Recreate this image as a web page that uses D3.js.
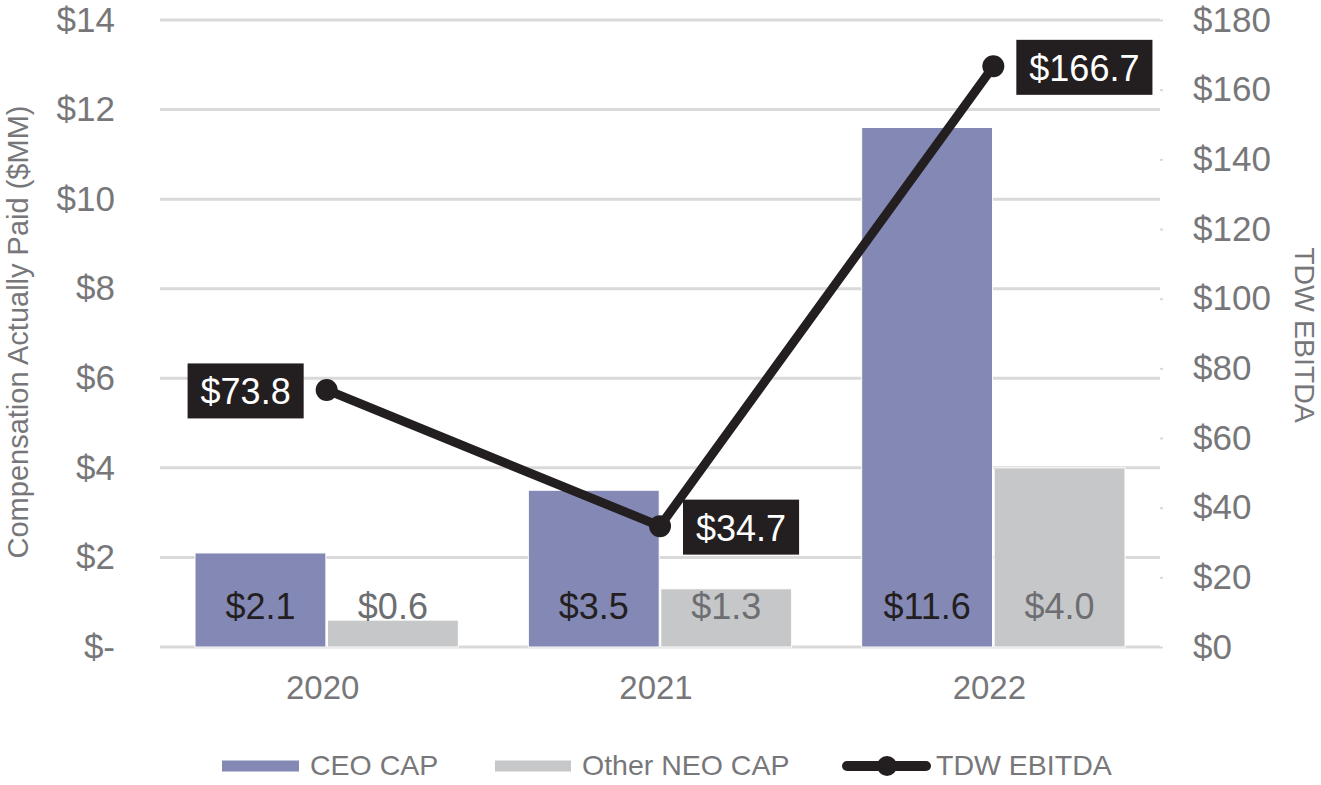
<!DOCTYPE html>
<html>
<head>
<meta charset="utf-8">
<script src="https://cdn.jsdelivr.net/npm/d3@7"></script>
<style>
  html, body { margin: 0; padding: 0; background: #ffffff; }
  svg { display: block; font-family: "Liberation Sans", Arial, sans-serif; }
</style>
</head>
<body>
<svg id="chart" width="1321" height="785"></svg>
<script>
// ---- Data ----
const years = ["2020", "2021", "2022"];
const seriesNames = ["CEO CAP", "Other NEO CAP"];
const ceoCap = [2.1, 3.5, 11.6];
const otherNeoCap = [0.6, 1.3, 4.0];
const ebitda = [73.8, 34.7, 166.7];
const leftTicks = [0, 2, 4, 6, 8, 10, 12, 14];
const leftTickLabels = ["$-", "$2", "$4", "$6", "$8", "$10", "$12", "$14"];
const rightTicks = [0, 20, 40, 60, 80, 100, 120, 140, 160, 180];
const rightTickLabels = ["$0", "$20", "$40", "$60", "$80", "$100", "$120", "$140", "$160", "$180"];
const ebitdaLabelSide = ["left", "right", "right"];

// ---- Layout ----
const svg = d3.select("#chart");
const plot = { left: 160, right: 1160, top: 20, bottom: 647 };
const colors = { ceo: "#8488b5", other: "#c6c7c9", line: "#231f20", grid: "#d9d9d9", axisText: "#77777a" };

const x0 = d3.scaleBand().domain(years).range([plot.left, plot.right]).paddingInner(0.21).paddingOuter(0.105);
const x1 = d3.scaleBand().domain(seriesNames).range([0, x0.bandwidth()]).paddingInner(0.012);
const yL = d3.scaleLinear().domain([0, 14]).range([plot.bottom, plot.top]);
const yR = d3.scaleLinear().domain([0, 180]).range([plot.bottom, plot.top]);

// Gridlines (left ticks)
svg.append("g").selectAll("line").data(leftTicks).join("line")
  .attr("x1", plot.left).attr("x2", plot.right)
  .attr("y1", d => yL(d)).attr("y2", d => yL(d))
  .attr("stroke", colors.grid).attr("stroke-width", 3);

// Left axis labels
const leftAxis = d3.axisLeft(yL).tickValues(leftTicks)
  .tickFormat((d, i) => leftTickLabels[i]).tickSize(0).tickPadding(0);
const gL = svg.append("g").attr("transform", `translate(115,0)`).call(leftAxis);
gL.select(".domain").remove();
gL.selectAll("text").attr("font-size", 35).attr("fill", colors.axisText)
  .attr("font-family", "Liberation Sans, Arial, sans-serif");

// Right axis labels + tiny ticks
const rightAxis = d3.axisRight(yR).tickValues(rightTicks)
  .tickFormat((d, i) => rightTickLabels[i]).tickSize(3).tickPadding(30);
const gR = svg.append("g").attr("transform", `translate(${plot.right},0)`).call(rightAxis);
gR.select(".domain").remove();
gR.selectAll("line").attr("stroke", colors.grid).attr("stroke-width", 2);
gR.selectAll("text").attr("font-size", 35).attr("fill", colors.axisText)
  .attr("font-family", "Liberation Sans, Arial, sans-serif");

// Bottom axis labels
const bottomAxis = d3.axisBottom(x0).tickSize(0).tickPadding(0);
const gB = svg.append("g").attr("transform", `translate(-4,${plot.bottom + 29})`).call(bottomAxis);
gB.select(".domain").remove();
gB.selectAll("text").attr("font-size", 33).attr("fill", colors.axisText)
  .attr("font-family", "Liberation Sans, Arial, sans-serif");

// Axis titles
svg.append("text")
  .attr("transform", `translate(28,332) rotate(-90)`)
  .attr("text-anchor", "middle").attr("font-size", 29).attr("fill", colors.axisText)
  .text("Compensation Actually Paid ($MM)");
svg.append("text")
  .attr("transform", `translate(1295,335) rotate(90)`)
  .attr("text-anchor", "middle").attr("font-size", 28.5).attr("fill", colors.axisText)
  .text("TDW EBITDA");

// Bars
const barData = years.flatMap((yr, i) => [
  { year: yr, series: "CEO CAP", value: ceoCap[i] },
  { year: yr, series: "Other NEO CAP", value: otherNeoCap[i] }
]);
svg.append("g").selectAll("rect").data(barData).join("rect")
  .attr("x", d => x0(d.year) + x1(d.series))
  .attr("width", x1.bandwidth())
  .attr("y", d => yL(d.value))
  .attr("height", d => yL(0) - yL(d.value))
  .attr("fill", d => d.series === "CEO CAP" ? colors.ceo : colors.other)
  .attr("stroke", "#ffffff").attr("stroke-width", 1);

// Bar labels
svg.append("g").selectAll("text").data(barData).join("text")
  .attr("x", d => x0(d.year) + x1(d.series) + x1.bandwidth() / 2)
  .attr("y", yL(0) - 28)
  .attr("text-anchor", "middle")
  .attr("font-size", 36)
  .attr("fill", d => d.series === "CEO CAP" ? "#231f20" : "#6d6e71")
  .text(d => "$" + d.value.toFixed(1));

// Line
const cx = i => x0(years[i]) + x0.bandwidth() / 2;
const line = d3.line().x((d, i) => cx(i)).y(d => yR(d));
svg.append("path").datum(ebitda)
  .attr("d", line).attr("fill", "none")
  .attr("stroke", colors.line).attr("stroke-width", 9).attr("stroke-linejoin", "round");
svg.append("g").selectAll("circle").data(ebitda).join("circle")
  .attr("cx", (d, i) => cx(i)).attr("cy", d => yR(d)).attr("r", 11)
  .attr("fill", colors.line);

// Line labels in black boxes
const lblG = svg.append("g");
ebitda.forEach((v, i) => {
  const g = lblG.append("g");
  const t = g.append("text")
    .attr("font-size", 36).attr("fill", "#ffffff")
    .attr("dominant-baseline", "central")
    .text("$" + v.toFixed(1));
  const w = t.node().getComputedTextLength();
  const padX = 13, h = 55;
  const px = cx(i), py = yR(v);
  const bx = ebitdaLabelSide[i] === "left" ? px - 23 - (w + 2 * padX) : px + 23;
  g.insert("rect", "text")
    .attr("x", bx).attr("y", py - h / 2 + 1)
    .attr("width", w + 2 * padX).attr("height", h)
    .attr("fill", "#231f20");
  t.attr("x", bx + padX).attr("y", py + 2);
});

// Legend
const leg = svg.append("g");
const legY = 766;
const legFont = 28.5;
leg.append("rect").attr("x", 222).attr("y", legY - 5.5).attr("width", 77).attr("height", 11).attr("fill", colors.ceo);
leg.append("text").attr("x", 310).attr("y", 775).attr("font-size", legFont).attr("fill", colors.axisText).text(seriesNames[0]);
leg.append("rect").attr("x", 495).attr("y", legY - 5.5).attr("width", 76).attr("height", 11).attr("fill", colors.other);
leg.append("text").attr("x", 582).attr("y", 775).attr("font-size", legFont).attr("fill", colors.axisText).text(seriesNames[1]);
leg.append("line").attr("x1", 847).attr("x2", 926).attr("y1", legY).attr("y2", legY)
  .attr("stroke", colors.line).attr("stroke-width", 10).attr("stroke-linecap", "round");
leg.append("circle").attr("cx", 887).attr("cy", legY).attr("r", 10).attr("fill", colors.line);
leg.append("text").attr("x", 936).attr("y", 775).attr("font-size", legFont).attr("fill", colors.axisText).text("TDW EBITDA");
</script>
</body>
</html>
